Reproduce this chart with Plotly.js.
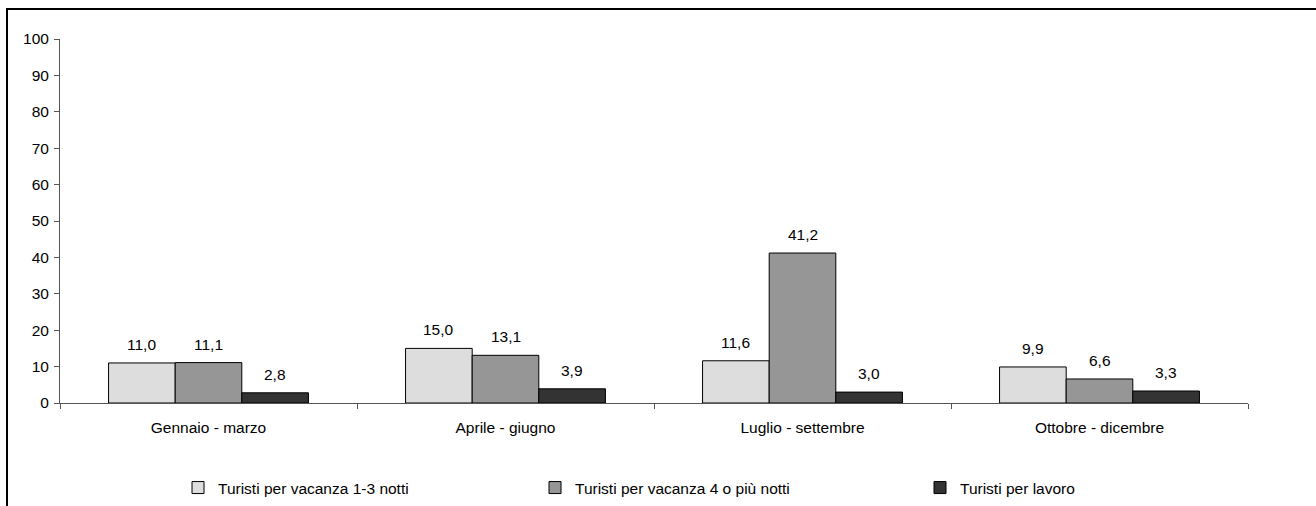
<!DOCTYPE html>
<html>
<head>
<meta charset="utf-8">
<script src="https://cdn.plot.ly/plotly-3.0.1.min.js"></script>
<style>
  html, body { margin: 0; padding: 0; background: #ffffff; overflow: hidden; }
  #wrap { position: relative; width: 1316px; height: 506px; overflow: hidden; }
  #chart { position: absolute; left: 0; top: 0; width: 1316px; height: 506px; }
  /* cornice superiore e sinistra dell'area grafico */
  #frame {
    position: absolute; left: 6px; top: 8px; width: 1400px; height: 600px;
    border-top: 2px solid #000000; border-left: 2px solid #000000;
    pointer-events: none;
  }
</style>
</head>
<body>
<div id="wrap">
  <div id="chart"></div>
  <div id="frame"></div>
</div>
<script>
// Trimestri dell'anno
const periodi = ['Gennaio - marzo', 'Aprile - giugno', 'Luglio - settembre', 'Ottobre - dicembre'];

// Valori per tipologia di turista
const vacanzaBreve = [11.0, 15.0, 11.6, 9.9];
const vacanzaLunga = [11.1, 13.1, 41.2, 6.6];
const lavoro = [2.8, 3.9, 3.0, 3.3];

const nomiSerie = [
  'Turisti per vacanza 1-3 notti',
  'Turisti per vacanza 4 o più notti',
  'Turisti per lavoro'
];
const colori = ['#dddddd', '#969696', '#333333'];
const serie = [vacanzaBreve, vacanzaLunga, lavoro];
const legende = ['legend', 'legend2', 'legend3'];

const FONT = 'Liberation Sans, Arial, Helvetica, sans-serif';
const BARGAP = 0.327;

const fmt = v => v.toFixed(1).replace('.', ',');

const traces = serie.map((vals, s) => ({
  type: 'bar',
  name: nomiSerie[s],
  x: periodi,
  y: vals,
  legend: legende[s],
  marker: { color: colori[s], line: { color: '#000000', width: 1 } },
  hoverinfo: 'x+y'
}));

// Etichette dei valori sopra ciascuna barra
const barW = (1 - BARGAP) / serie.length;
const annotations = [];
serie.forEach((vals, s) => {
  vals.forEach((v, i) => {
    annotations.push({
      xref: 'x', yref: 'y',
      x: i + (s - (serie.length - 1) / 2) * barW,
      y: v,
      text: fmt(v),
      showarrow: false,
      yanchor: 'bottom',
      yshift: 8,
      font: { family: FONT, size: 15.5, color: '#000000' }
    });
  });
});

// Legende affiancate in basso, posizionate rispetto al contenitore
const legendBase = {
  orientation: 'h',
  xref: 'container',
  yref: 'container',
  xanchor: 'left',
  yanchor: 'middle',
  y: 0.0356,
  bgcolor: 'rgba(0,0,0,0)',
  font: { family: FONT, size: 15.5, color: '#000000' }
};

const layout = {
  width: 1316,
  height: 506,
  margin: { l: 60, r: 68, t: 39, b: 103, pad: 0, autoexpand: false },
  paper_bgcolor: 'rgba(0,0,0,0)',
  plot_bgcolor: 'rgba(0,0,0,0)',
  font: { family: FONT, size: 15.5, color: '#000000' },
  barmode: 'group',
  bargap: BARGAP,
  bargroupgap: 0,
  showlegend: true,
  legend: Object.assign({}, legendBase, { x: 178 / 1316 }),
  legend2: Object.assign({}, legendBase, { x: 535 / 1316 }),
  legend3: Object.assign({}, legendBase, { x: 920 / 1316 }),
  xaxis: {
    type: 'category',
    range: [-0.5, 3.5],
    showline: true,
    linecolor: '#555555',
    linewidth: 1,
    ticks: 'outside',
    tickson: 'boundaries',
    ticklen: 5,
    tickcolor: '#555555',
    ticklabelstandoff: 10,
    showgrid: false,
    zeroline: false,
    automargin: false,
    fixedrange: true
  },
  yaxis: {
    range: [0, 100],
    dtick: 10,
    showline: true,
    linecolor: '#555555',
    linewidth: 1,
    ticks: 'outside',
    ticklen: 5,
    tickcolor: '#555555',
    ticklabelstandoff: 2,
    showgrid: false,
    zeroline: false,
    automargin: false,
    fixedrange: true
  },
  annotations: annotations
};

Plotly.newPlot('chart', traces, layout, { displayModeBar: false, staticPlot: true });
</script>
</body>
</html>
